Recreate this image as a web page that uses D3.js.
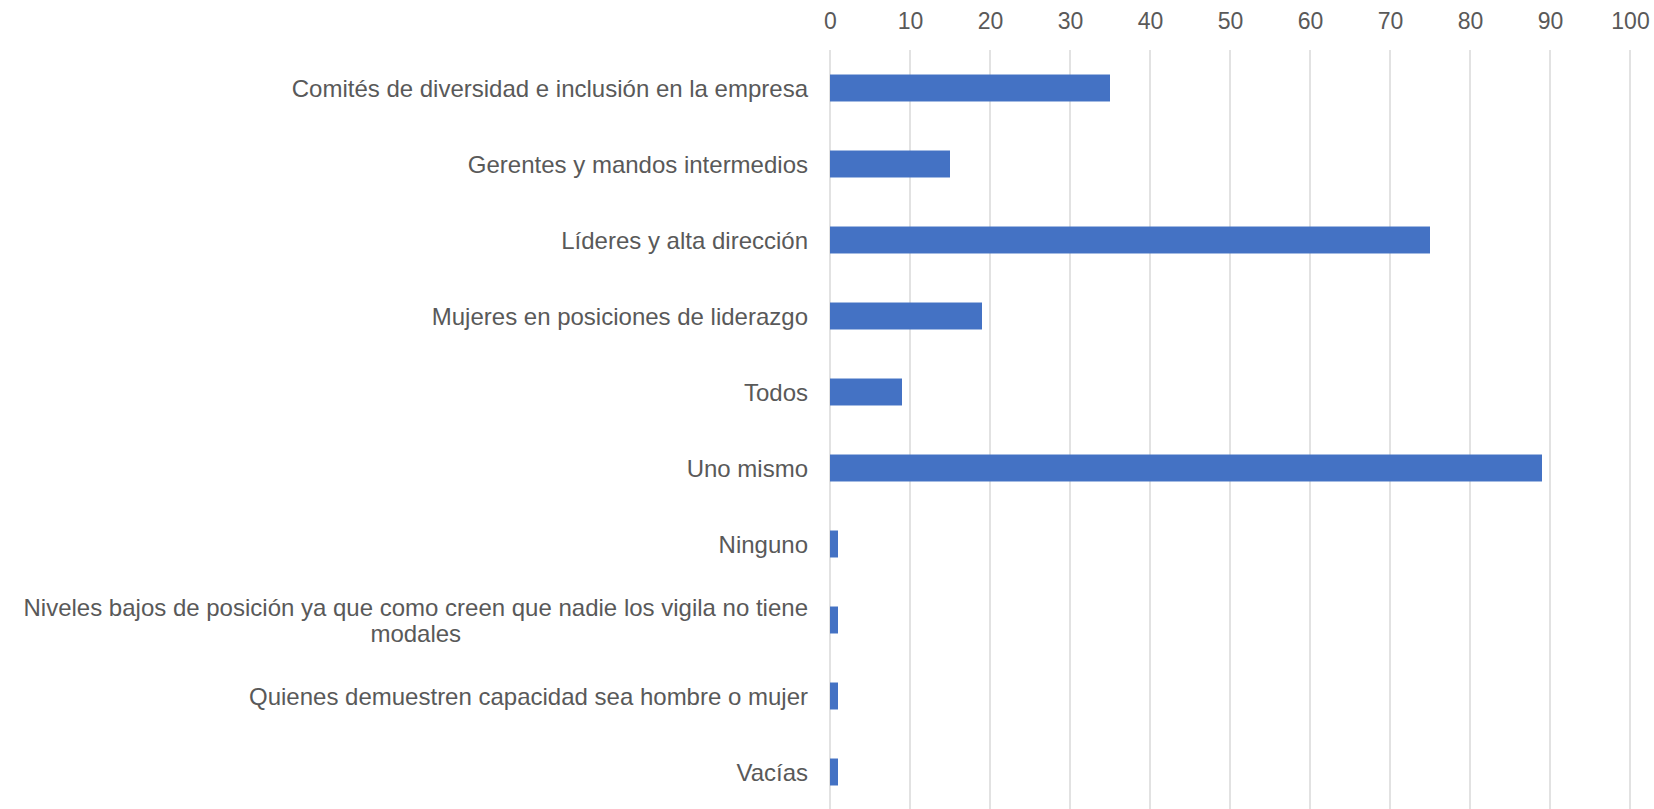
<!DOCTYPE html>
<html>
<head>
<meta charset="utf-8">
<script src="https://cdn.jsdelivr.net/npm/d3@7"></script>
<style>
  html, body { margin: 0; padding: 0; background: #fff; }
  svg { display: block; }
  text { font-family: "Liberation Sans", Arial, sans-serif; fill: #595959; }
</style>
</head>
<body>
<svg id="chart" width="1654" height="809"></svg>
<script>
const categories = [
  "Comités de diversidad e inclusión en la empresa",
  "Gerentes y mandos intermedios",
  "Líderes y alta dirección",
  "Mujeres en posiciones de liderazgo",
  "Todos",
  "Uno mismo",
  "Ninguno",
  "Niveles bajos de posición ya que como creen que nadie los vigila no tiene\nmodales",
  "Quienes demuestren capacidad sea hombre o mujer",
  "Vacías"
];
const values = [35, 15, 75, 19, 9, 89, 1, 1, 1, 1];
const tickValues = [0, 10, 20, 30, 40, 50, 60, 70, 80, 90, 100];

const svg = d3.select("#chart");
const x = d3.scaleLinear().domain([0, 100]).range([830, 1630]);
const y = d3.scaleBand().domain(categories).range([50, 810])
  .paddingInner(0.645).paddingOuter(0.3225);

// gridlines
svg.append("g").selectAll("line").data(tickValues).join("line")
  .attr("x1", d => x(d)).attr("x2", d => x(d))
  .attr("y1", 50).attr("y2", 809)
  .attr("stroke", "#d9d9d9").attr("stroke-width", 1.5);

// top axis tick labels
const axis = svg.append("g").attr("transform", "translate(0,29)")
  .call(d3.axisTop(x).tickValues(tickValues).tickSize(0).tickPadding(0));
axis.select(".domain").remove();
axis.selectAll("text")
  .attr("font-size", 23).attr("font-family", "Liberation Sans, Arial, sans-serif")
  .attr("fill", "#595959").attr("dy", 0).attr("y", 0);

// bars
svg.append("g").selectAll("rect").data(values).join("rect")
  .attr("x", x(0))
  .attr("y", (d, i) => y(categories[i]))
  .attr("width", d => x(d) - x(0))
  .attr("height", y.bandwidth())
  .attr("fill", "#4472C4");

// category labels
const labelX = 808;
const lg = svg.append("g");
categories.forEach(c => {
  const cy = y(c) + y.bandwidth() / 2;
  const lines = c.split("\n");
  if (lines.length === 1) {
    lg.append("text").attr("x", labelX).attr("y", cy).attr("dy", "0.37em")
      .attr("text-anchor", "end").attr("font-size", 24).text(c);
  } else {
    const lh = 25.6;
    const t = lg.append("text").attr("text-anchor", "middle").attr("font-size", 24);
    const spans = lines.map((l, k) => t.append("tspan")
      .attr("y", cy + (k - (lines.length - 1) / 2) * lh).attr("dy", "0.37em").text(l));
    const w = d3.max(spans, s => s.node().getComputedTextLength());
    spans.forEach(s => s.attr("x", labelX - w / 2));
  }
});
</script>
</body>
</html>
